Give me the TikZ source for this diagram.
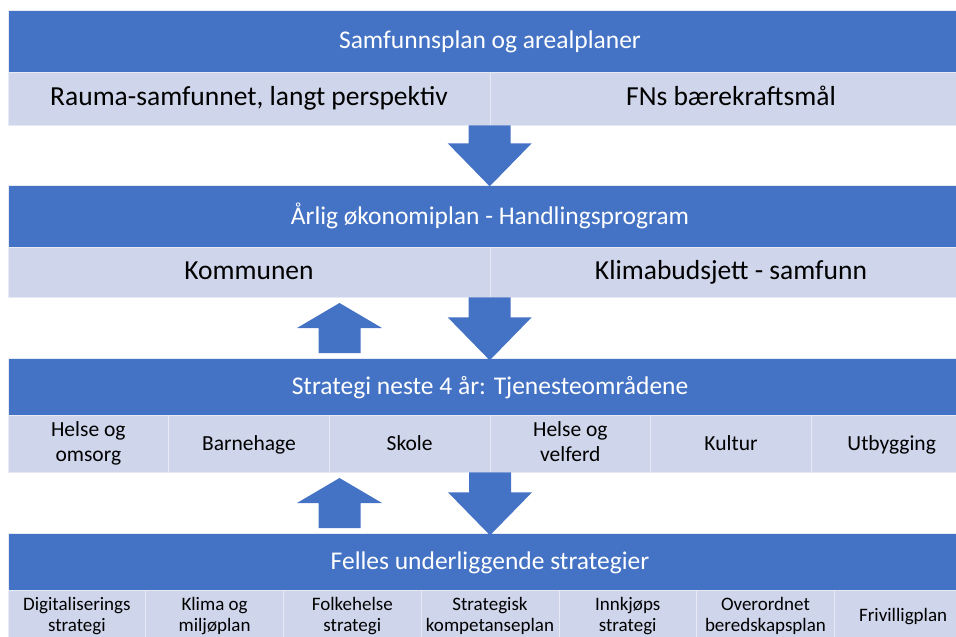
\documentclass[tikz,border=0pt]{standalone}
\usepackage{fontspec}
\setmainfont{Carlito}
\definecolor{hdblue}{HTML}{4472C4}
\definecolor{rowblue}{HTML}{CFD5EA}
\tikzset{
  pics/dnblk/.style={code={
    \fill[hdblue] (-21,0) -- (21,0) -- (21,#1) -- (42,#1) -- (0,#1+43) -- (-42,#1) -- (-21,#1) -- cycle;}},
  pics/upblk/.style={code={
    \fill[hdblue] (0,0) -- (42.5,25) -- (21,25) -- (21,50) -- (-21,50) -- (-21,25) -- (-42.5,25) -- cycle;}}
}

\begin{document}
\begin{tikzpicture}
      [x=1pt,y=-1pt,
       every node/.style={draw=rowblue!50!white,line width=0.6pt,inner sep=0pt,align=center,
                          execute at begin node=\strut},
       head/.style={fill=hdblue,text=white,minimum width=964pt,font=\fontsize{25.5}{30}\selectfont,text depth=5.5pt},
       cell/.style={fill=rowblue,text=black},
       bigcell/.style={cell,minimum width=482pt,font=\fontsize{27.5}{32}\selectfont,text depth=8pt},
       midcell/.style={cell,minimum width=160.67pt,minimum height=57pt,font=\fontsize{21.5}{25}\selectfont,text depth=4.5pt},
       smallcell/.style={cell,minimum width=137.71pt,minimum height=55pt,font=\fontsize{19}{21}\selectfont,text depth=6.3pt}]
      \clip (0,0) rectangle (956,637);

      % langt perspektiv
      \node [head,minimum height=62pt] (hd1) at (490,41) {Samfunnsplan og arealplaner};
      \node [bigcell,minimum height=53pt] (r11) at (249,98.5) {Rauma-samfunnet, langt perspektiv};
      \node [bigcell,minimum height=53pt] (r12) at (731,98.5) {FNs bærekraftsmål};

      % handlingsprogram
      \node [head,minimum height=62pt] (hd2) at (490,216) {Årlig økonomiplan - Handlingsprogram};
      \node [bigcell,minimum height=50pt] (r21) at (249,272) {Kommunen};
      \node [bigcell,minimum height=50pt] (r22) at (731,272) {Klimabudsjett - samfunn};

      % tjenesteomraadene
      \node [head,minimum height=57pt] (hd3) at (490,386.5) {Strategi neste 4 år: Tjenesteområdene};
      \node [midcell] (r31) at (88.33,443.5) {Helse og\\omsorg};
      \node [midcell] (r32) at (249,443.5) {Barnehage};
      \node [midcell] (r33) at (409.67,443.5) {Skole};
      \node [midcell] (r34) at (570.33,443.5) {Helse og\\velferd};
      \node [midcell] (r35) at (731,443.5) {Kultur};
      \node [midcell] (r36) at (891.67,443.5) {Utbygging};

      % felles strategier
      \node [head,minimum height=57pt] (hd4) at (490,561.5) {Felles underliggende strategier};
      \node [smallcell] (r41) at (76.86,617.5) {Digitaliserings\\strategi};
      \node [smallcell] (r42) at (214.57,617.5) {Klima og\\miljøplan};
      \node [smallcell] (r43) at (352.29,617.5) {Folkehelse\\strategi};
      \node [smallcell] (r44) at (490,617.5) {Strategisk\\kompetanseplan};
      \node [smallcell] (r45) at (627.71,617.5) {Innkjøps\\strategi};
      \node [smallcell] (r46) at (765.43,617.5) {Overordnet\\beredskapsplan};
      \node [smallcell] (r47) at (903.14,617.5) {Frivilligplan};

      % piler
      \pic at (r12.south west) {dnblk=18};
      \pic at (r22.south west) {dnblk=20};
      \pic at (r36.south -| hd3.south) {dnblk=20};
      \pic at (339.5,303) {upblk};
      \pic at (339.5,478) {upblk};
    \end{tikzpicture}
\end{document}
